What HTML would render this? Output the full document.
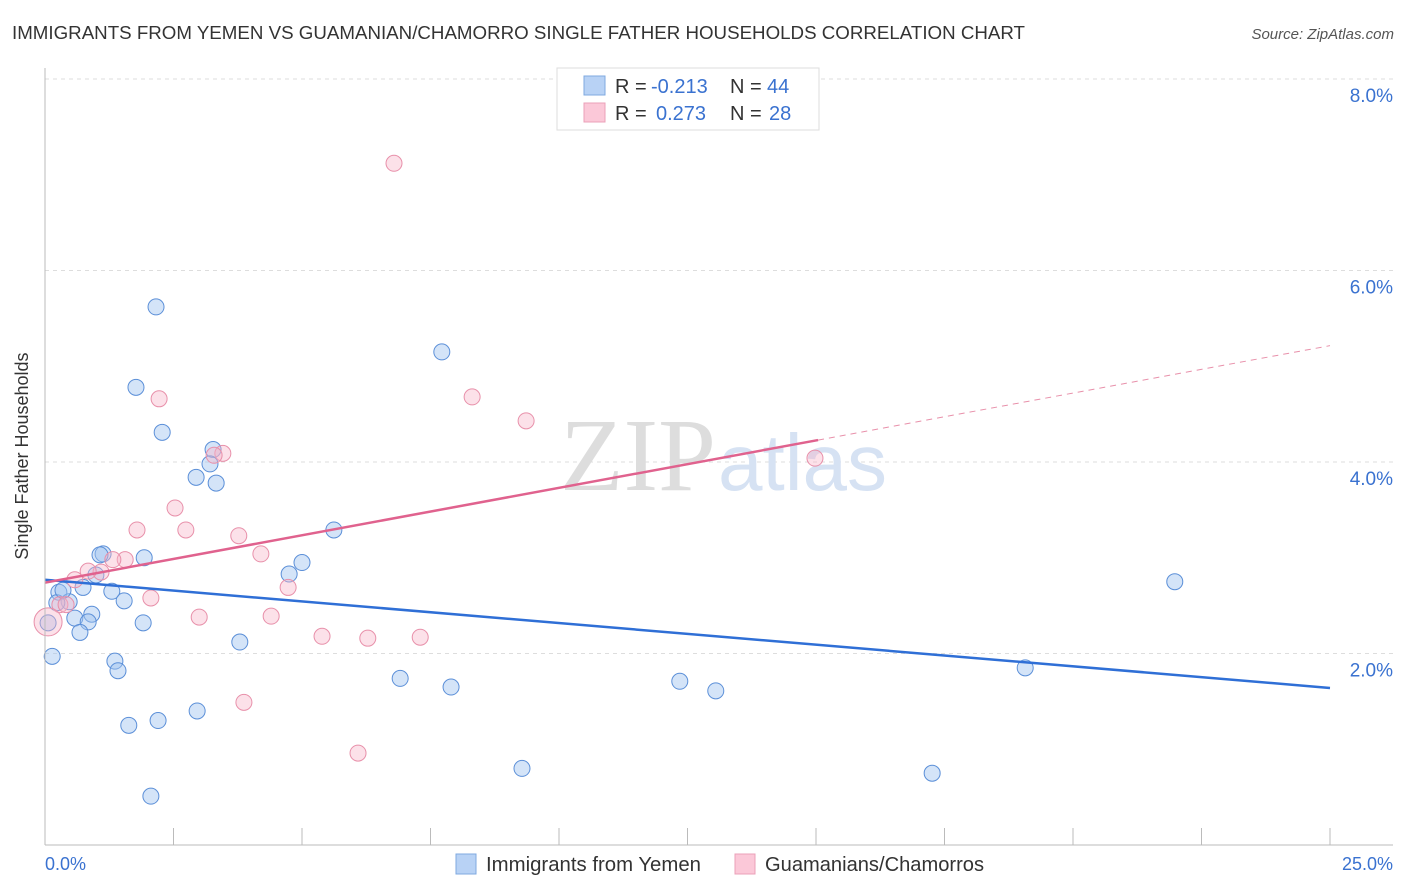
<!DOCTYPE html>
<html><head><meta charset="utf-8"><style>
body{margin:0;background:#fff;font-family:"Liberation Sans",sans-serif}
</style></head><body>
<svg id="chart" width="1406" height="892" xmlns="http://www.w3.org/2000/svg" style="display:block">
<text x="12" y="39" font-size="18" fill="#333" textLength="1013" lengthAdjust="spacingAndGlyphs">IMMIGRANTS FROM YEMEN VS GUAMANIAN/CHAMORRO SINGLE FATHER HOUSEHOLDS CORRELATION CHART</text>
<text x="1394" y="39" font-size="15" fill="#555" font-style="italic" text-anchor="end">Source: ZipAtlas.com</text>
<g id="grid"></g>
<text x="716" y="490" font-size="104" font-family="Liberation Serif,serif" fill="#ddd" text-anchor="end">ZIP</text>
<text x="718" y="490" font-size="80" fill="#d6e2f3">atlas</text>
<g id="marks"></g>
<line x1="45" y1="68" x2="45" y2="845" stroke="#bbb"/>
<line x1="45" y1="845" x2="1393" y2="845" stroke="#bbb"/>
<text x="28" y="456" font-size="18" fill="#333" text-anchor="middle" transform="rotate(-90 28 456)">Single Father Households</text>
<text x="45" y="870" font-size="18" fill="#3a72d0">0.0%</text>
<text x="1393" y="870" font-size="18" fill="#3a72d0" text-anchor="end">25.0%</text>
<g>
<rect x="557" y="68" width="262" height="62" fill="#fff" stroke="#ddd"/>
<rect x="584" y="76" width="21" height="19" fill="#b8d2f5" stroke="#7fa9e0"/>
<rect x="584" y="103" width="21" height="19" fill="#fbc8d8" stroke="#eba0b8"/>
<text x="615" y="93" font-size="20" fill="#333">R = <tspan x="651" fill="#3a72d0">-0.213</tspan><tspan x="730">N = </tspan><tspan x="767" fill="#3a72d0">44</tspan></text>
<text x="615" y="120" font-size="20" fill="#333">R = <tspan x="656" fill="#3a72d0">0.273</tspan><tspan x="730">N = </tspan><tspan x="769" fill="#3a72d0">28</tspan></text>
</g>
<g>
<rect x="456" y="854" width="20" height="20" fill="#b8d2f5" stroke="#7fa9e0"/>
<text x="486" y="871" font-size="20" fill="#333" textLength="215" lengthAdjust="spacingAndGlyphs">Immigrants from Yemen</text>
<rect x="735" y="854" width="20" height="20" fill="#fbc8d8" stroke="#eba0b8"/>
<text x="765" y="871" font-size="20" fill="#333" textLength="219" lengthAdjust="spacingAndGlyphs">Guamanians/Chamorros</text>
</g>
</svg>
<script>
const yTicks=[2,4,6,8];
const yTickLabels=["2.0%","4.0%","6.0%","8.0%"];
const xTicks=[0,2.5,5,7.5,10,12.5,15,17.5,20,22.5,25];
const blueX=[2.16,1.77,2.28,7.72,3.27,3.21,2.94,3.33,5.62,1.13,1.07,1.93,5.00,4.75,0.99,0.27,0.74,1.30,0.47,1.54,0.23,0.91,0.58,0.84,1.91,0.68,0.06,3.79,0.14,1.36,1.42,6.91,7.90,12.35,13.05,19.07,21.98,2.96,2.20,1.63,9.28,17.26,2.06,0.35];
const blueY=[5.62,4.78,4.31,5.15,4.13,3.98,3.84,3.78,3.29,3.04,3.03,3.00,2.95,2.83,2.82,2.64,2.69,2.65,2.54,2.55,2.53,2.41,2.37,2.33,2.32,2.22,2.32,2.12,1.97,1.92,1.82,1.74,1.65,1.71,1.61,1.85,2.75,1.40,1.30,1.25,0.80,0.75,0.51,2.66];
const pinkX=[6.79,2.22,8.31,9.36,14.98,3.46,3.29,2.53,1.79,2.74,3.77,4.20,1.56,1.32,1.09,0.84,0.58,0.29,0.41,2.06,3.00,4.40,4.73,5.39,6.28,7.30,3.87,6.09,0.06];
const pinkY=[7.12,4.66,4.68,4.43,4.04,4.09,4.07,3.52,3.29,3.29,3.23,3.04,2.98,2.98,2.85,2.86,2.77,2.51,2.51,2.58,2.38,2.39,2.69,2.18,2.16,2.17,1.49,0.96,2.33];
const blueTrend=[2.77,1.64];
const pinkTrend=[2.74,0.099];
const pinkSolidEnd=15.04;
const NS="http://www.w3.org/2000/svg";
const sx=v=>45+v/25*1285;
const sy=v=>845-v/2*191.5;
function mk(tag,attrs,parent){const e=document.createElementNS(NS,tag);for(const k in attrs)e.setAttribute(k,attrs[k]);parent.appendChild(e);return e;}
const grid=document.getElementById('grid'),marks=document.getElementById('marks');
yTicks.forEach((t,i)=>{
 const l=mk('line',{x1:45,x2:1393,y1:sy(t),y2:sy(t),stroke:'#ddd','stroke-dasharray':'4,4'},grid);
 
 
 const tx=mk('text',{x:1393,y:sy(t)+23,'font-size':19,fill:'#3a72d0','text-anchor':'end'},grid);
 tx.textContent=yTickLabels[i];
 
 
});
xTicks.forEach(t=>{
 const l=mk('line',{x1:sx(t),x2:sx(t),y1:828,y2:845,stroke:'#bbb'},grid);
 
 
});
blueX.forEach((x,i)=>{
 const c=mk('circle',{cx:sx(x),cy:sy(blueY[i]),r:8,fill:'rgba(160,196,240,0.45)',stroke:'#5b8fd8','stroke-width':1},marks);
 
 
});
pinkX.forEach((x,i)=>{
 const c=mk('circle',{cx:sx(x),cy:sy(pinkY[i]),r:i==pinkX.length-1?14:8,fill:'rgba(248,180,200,0.4)',stroke:'#e890aa','stroke-width':1},marks);
 
 
});
let l=mk('line',{x1:sx(0),y1:sy(blueTrend[0]),x2:sx(25),y2:sy(blueTrend[1]),stroke:'#2f6fd6','stroke-width':2.5},marks);


const pf=x=>pinkTrend[0]+pinkTrend[1]*x;
l=mk('line',{x1:sx(0),y1:sy(pf(0)),x2:sx(pinkSolidEnd),y2:sy(pf(pinkSolidEnd)),stroke:'#e0628e','stroke-width':2.5},marks);


l=mk('line',{x1:sx(pinkSolidEnd),y1:sy(pf(pinkSolidEnd)),x2:sx(25),y2:sy(pf(25)),stroke:'#e890aa','stroke-width':1,'stroke-dasharray':'6,5'},marks);


</script>
</body></html>
